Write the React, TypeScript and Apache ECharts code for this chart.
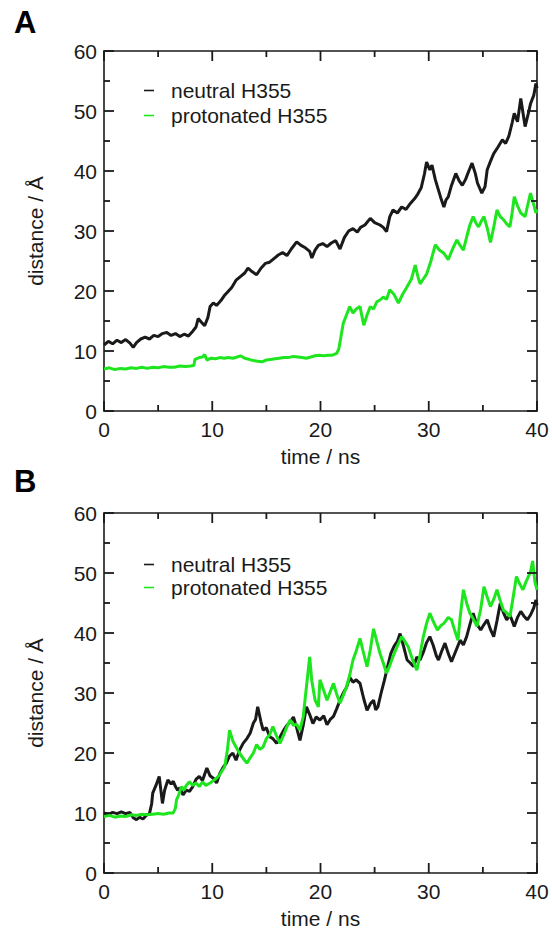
import React, { useEffect, useRef } from 'react';
import * as echarts from 'echarts';

// panel A – neutral H355 (time ns, distance Å)
const neutralA: [number, number][] = [
  [0, 11.0], [0.4, 11.6], [0.8, 11.2], [1.2, 11.8], [1.6, 11.4], [2.0, 11.9], [2.4, 11.3], [2.7, 10.6], [3.0, 11.4], [3.4, 12.0],
  [3.8, 12.3], [4.2, 12.0], [4.6, 12.6], [5.0, 12.4], [5.4, 12.9], [5.8, 13.1], [6.2, 12.6], [6.6, 12.9], [7.0, 12.4], [7.4, 12.8],
  [7.8, 12.5], [8.2, 13.3], [8.5, 14.0], [8.7, 15.4], [9.0, 14.8], [9.3, 14.2], [9.6, 15.6], [9.8, 17.4], [10.1, 18.0], [10.4, 17.6],
  [10.8, 18.4], [11.1, 19.2], [11.4, 19.8], [11.8, 20.6], [12.2, 21.8], [12.6, 22.4], [13.0, 23.0], [13.3, 23.8], [13.7, 23.2], [14.1, 22.7],
  [14.5, 23.8], [14.9, 24.6], [15.3, 24.8], [15.7, 25.4], [16.1, 26.0], [16.5, 26.4], [16.9, 25.9], [17.3, 27.0], [17.8, 28.2], [18.2, 27.6],
  [18.6, 27.2], [19.0, 26.6], [19.2, 25.5], [19.5, 26.8], [19.8, 27.6], [20.2, 27.9], [20.6, 27.4], [21.0, 28.0], [21.4, 28.4], [21.8, 27.0],
  [22.2, 28.9], [22.6, 30.0], [23.0, 30.4], [23.4, 29.8], [23.7, 30.6], [24.1, 31.0], [24.6, 32.1], [25.0, 31.4], [25.5, 31.0], [25.8, 30.6],
  [26.1, 29.9], [26.4, 32.4], [26.7, 33.5], [27.1, 33.0], [27.5, 34.0], [27.9, 33.6], [28.3, 34.6], [28.7, 35.4], [29.0, 36.2], [29.3, 37.2],
  [29.6, 39.5], [29.8, 41.5], [30.1, 40.2], [30.3, 41.0], [30.6, 38.6], [30.8, 37.4], [31.1, 35.6], [31.4, 34.0], [31.6, 35.2], [31.8, 35.7],
  [32.1, 37.6], [32.5, 39.6], [32.8, 38.4], [33.1, 37.6], [33.4, 38.6], [33.7, 40.0], [34.0, 41.3], [34.3, 39.6], [34.5, 38.0], [34.9, 36.3],
  [35.2, 37.4], [35.4, 40.2], [35.7, 41.6], [36.0, 42.9], [36.4, 44.0], [36.8, 45.2], [37.1, 44.6], [37.4, 45.8], [37.7, 48.0], [37.9, 49.6],
  [38.2, 48.2], [38.5, 52.1], [38.8, 48.6], [38.9, 47.4], [39.2, 49.6], [39.4, 51.2], [39.7, 52.6], [39.9, 54.6], [40.0, 53.8],
];

// panel A – protonated H355
const protonatedA: [number, number][] = [
  [0, 7.0], [0.5, 7.2], [1.0, 6.9], [1.5, 7.1], [2.0, 7.0], [2.5, 7.2], [3.0, 7.1], [3.5, 7.3], [4.0, 7.1], [4.5, 7.3],
  [5.0, 7.2], [5.5, 7.4], [6.0, 7.3], [6.5, 7.3], [7.0, 7.5], [7.5, 7.4], [8.0, 7.5], [8.3, 7.6], [8.4, 8.6], [8.8, 8.9],
  [9.1, 9.0], [9.3, 9.4], [9.5, 8.5], [9.9, 8.8], [10.3, 8.7], [10.7, 8.9], [11.1, 8.8], [11.5, 8.9], [11.9, 8.8], [12.3, 9.0],
  [12.6, 9.2], [13.0, 8.8], [13.4, 8.6], [13.8, 8.4], [14.2, 8.3], [14.6, 8.2], [15.0, 8.5], [15.4, 8.6], [15.8, 8.7], [16.2, 8.8],
  [16.6, 8.9], [17.0, 8.9], [17.5, 9.1], [17.9, 9.0], [18.3, 8.9], [18.7, 8.8], [19.1, 9.0], [19.5, 9.2], [19.9, 9.3], [20.3, 9.2],
  [20.7, 9.3], [21.1, 9.3], [21.5, 9.6], [21.7, 10.4], [21.9, 12.5], [22.1, 14.6], [22.4, 16.0], [22.7, 17.4], [23.0, 16.3], [23.3, 17.0],
  [23.65, 17.4], [23.85, 15.6], [24.0, 14.3], [24.3, 16.0], [24.6, 17.4], [24.9, 17.0], [25.2, 18.2], [25.5, 18.5], [25.8, 19.0], [26.1, 18.6],
  [26.4, 20.2], [26.8, 19.4], [27.2, 18.0], [27.6, 19.5], [28.0, 20.7], [28.4, 22.0], [28.75, 24.3], [29.0, 22.4], [29.2, 21.2], [29.5, 22.0],
  [29.8, 22.8], [30.2, 25.0], [30.6, 27.7], [31.0, 26.8], [31.4, 26.3], [31.8, 25.2], [32.2, 27.0], [32.6, 28.5], [32.9, 27.6], [33.2, 26.8],
  [33.5, 29.0], [33.8, 31.0], [34.1, 32.4], [34.4, 31.2], [34.6, 30.7], [34.9, 31.8], [35.1, 32.4], [35.4, 30.5], [35.7, 28.1], [36.0, 30.6],
  [36.3, 33.5], [36.6, 32.4], [36.9, 31.9], [37.2, 31.2], [37.5, 30.7], [37.7, 33.0], [37.9, 35.7], [38.2, 34.2], [38.5, 33.0], [38.9, 32.4],
  [39.1, 34.0], [39.4, 36.3], [39.7, 34.4], [39.9, 33.0], [40.0, 33.6],
];

// panel B – neutral H355
const neutralB: [number, number][] = [
  [0, 10.0], [0.4, 9.7], [0.8, 10.1], [1.2, 9.9], [1.6, 10.2], [2.0, 9.9], [2.4, 10.1], [2.7, 9.2], [3.0, 8.9], [3.3, 9.3],
  [3.6, 9.0], [3.9, 9.6], [4.2, 9.9], [4.4, 11.5], [4.5, 13.3], [4.8, 14.6], [5.1, 16.1], [5.4, 11.6], [5.6, 13.8], [5.9, 15.5],
  [6.2, 14.8], [6.4, 15.3], [6.6, 14.4], [6.8, 13.8], [7.0, 14.2], [7.3, 13.0], [7.6, 13.8], [7.9, 13.6], [8.2, 14.4], [8.5, 15.6],
  [8.8, 16.1], [9.1, 15.4], [9.5, 17.5], [9.8, 16.2], [10.1, 15.8], [10.4, 15.0], [10.7, 16.6], [11.0, 17.6], [11.3, 18.3], [11.6, 19.5],
  [11.9, 20.0], [12.2, 18.8], [12.5, 20.4], [12.85, 21.6], [13.2, 22.4], [13.5, 23.3], [13.8, 25.0], [14.0, 25.6], [14.2, 27.7], [14.5, 25.2],
  [14.7, 23.8], [15.0, 24.2], [15.3, 22.7], [15.6, 22.4], [15.95, 21.6], [16.3, 22.8], [16.6, 23.8], [16.9, 24.6], [17.2, 25.2], [17.5, 26.0],
  [17.8, 24.2], [18.1, 22.1], [18.4, 24.6], [18.7, 27.7], [19.0, 26.4], [19.3, 24.9], [19.6, 26.0], [19.95, 25.5], [20.3, 26.2], [20.6, 24.7],
  [20.9, 25.6], [21.2, 26.1], [21.5, 27.4], [21.8, 28.8], [22.1, 30.0], [22.4, 30.9], [22.7, 32.6], [23.0, 31.8], [23.3, 32.2], [23.65, 31.6],
  [24.0, 29.0], [24.3, 27.1], [24.6, 28.2], [24.9, 28.8], [25.1, 27.2], [25.3, 27.7], [25.6, 30.0], [25.9, 32.1], [26.2, 34.4], [26.5, 36.6],
  [26.8, 37.8], [27.1, 38.6], [27.35, 39.9], [27.7, 37.6], [28.0, 35.5], [28.3, 35.0], [28.6, 34.4], [28.9, 36.0], [29.2, 35.5], [29.5, 36.8],
  [29.8, 38.4], [30.1, 39.4], [30.4, 38.0], [30.7, 36.2], [30.9, 35.5], [31.2, 37.0], [31.5, 38.3], [31.8, 36.6], [32.1, 35.2], [32.5, 37.0],
  [32.9, 38.8], [33.2, 38.0], [33.5, 39.4], [33.8, 41.4], [34.1, 43.3], [34.4, 41.6], [34.8, 40.5], [35.1, 41.4], [35.4, 42.2], [35.7, 40.6],
  [36.0, 39.4], [36.3, 42.0], [36.6, 44.9], [36.9, 43.4], [37.2, 42.2], [37.5, 43.0], [37.9, 41.1], [38.2, 42.6], [38.5, 43.6], [38.8, 42.8],
  [39.1, 42.2], [39.4, 43.0], [39.7, 44.2], [39.9, 45.5], [40.0, 44.6],
];

// panel B – protonated H355
const protonatedB: [number, number][] = [
  [0, 9.4], [0.5, 9.6], [1.0, 9.3], [1.5, 9.5], [2.0, 9.4], [2.5, 9.7], [3.0, 9.6], [3.5, 9.8], [4.0, 9.7], [4.5, 9.8],
  [5.0, 9.9], [5.5, 9.8], [6.0, 10.0], [6.4, 10.0], [6.6, 10.8], [6.7, 12.2], [6.9, 13.0], [7.15, 14.4], [7.4, 13.8], [7.6, 14.6],
  [7.9, 15.2], [8.2, 14.6], [8.5, 15.0], [8.8, 14.4], [9.1, 15.2], [9.4, 14.6], [9.8, 15.0], [10.1, 15.4], [10.4, 15.8], [10.7, 16.4],
  [10.9, 17.0], [11.15, 17.7], [11.4, 20.5], [11.6, 23.8], [11.9, 22.0], [12.2, 21.0], [12.5, 20.0], [12.9, 19.0], [13.2, 18.3], [13.5, 19.2],
  [13.8, 20.0], [14.1, 21.4], [14.4, 20.6], [14.7, 21.0], [15.0, 22.4], [15.3, 23.0], [15.6, 24.4], [15.9, 23.0], [16.25, 21.6], [16.6, 23.0],
  [16.9, 24.4], [17.2, 25.5], [17.5, 24.6], [17.8, 24.8], [18.1, 23.8], [18.4, 26.0], [18.7, 31.0], [19.0, 36.0], [19.2, 32.0], [19.5, 28.8],
  [19.8, 27.7], [19.95, 32.2], [20.3, 30.4], [20.6, 28.8], [20.9, 30.2], [21.2, 31.6], [21.5, 29.8], [21.8, 28.3], [22.1, 29.6], [22.4, 31.0],
  [22.7, 33.0], [23.0, 35.5], [23.3, 37.0], [23.65, 39.1], [24.0, 36.5], [24.3, 34.4], [24.6, 37.2], [24.9, 40.7], [25.2, 38.6], [25.5, 36.6],
  [25.8, 35.0], [26.1, 33.3], [26.4, 34.6], [26.7, 36.1], [27.1, 37.8], [27.5, 39.4], [27.8, 38.6], [28.1, 37.7], [28.5, 35.6], [28.9, 33.8],
  [29.2, 36.4], [29.5, 39.4], [29.8, 41.6], [30.1, 43.3], [30.4, 42.0], [30.8, 40.5], [31.1, 41.2], [31.4, 41.6], [31.8, 42.6], [32.1, 42.2],
  [32.4, 40.4], [32.7, 38.8], [32.9, 42.6], [33.2, 47.2], [33.5, 45.0], [33.8, 43.3], [34.1, 42.4], [34.45, 41.1], [34.8, 44.0], [35.1, 47.7],
  [35.4, 46.0], [35.7, 44.4], [36.0, 45.6], [36.3, 47.2], [36.6, 45.4], [36.9, 43.8], [37.2, 43.4], [37.5, 42.7], [37.8, 46.0], [38.1, 49.4],
  [38.4, 48.2], [38.7, 47.2], [39.0, 48.6], [39.4, 50.2], [39.6, 52.0], [39.8, 48.6], [40.0, 47.2],
];

const seriesNames = ['neutral H355', 'protonated H355'];
const panelLabels = ['A', 'B'];
const xName = 'time / ns';
const yName = 'distance / Å';
// tick positions (major every 10, minor every 5)
const xTickValues = [0, 5, 10, 15, 20, 25, 30, 35, 40];
const yTickValues = [0, 5, 10, 15, 20, 25, 30, 35, 40, 45, 50, 55, 60];

export default function App() {
  const ref = useRef<HTMLDivElement>(null);
  useEffect(() => {
    const chart = echarts.init(ref.current!, undefined, { renderer: 'svg' });
    const font = '"Liberation Sans", Arial, Helvetica, sans-serif';
    const ink = '#1a1a1a';
    const green = '#1ee61e';
    const lbl = { color: ink, fontSize: 21, fontFamily: font };

    const axis = (gi: number, dim: 'x' | 'y', second: boolean): any => ({
      type: 'value', gridIndex: gi, min: 0, max: dim === 'x' ? 40 : 60, interval: 10,
      position: dim === 'x' ? (second ? 'top' : 'bottom') : (second ? 'right' : 'left'),
      axisLine: { show: true, onZero: false, lineStyle: { color: ink, width: 1.6 } },
      axisTick: { show: false },
      minorTick: { show: false },
      splitLine: { show: false }, minorSplitLine: { show: false },
      axisLabel: { show: !second, margin: dim === 'x' ? 8 : 7, ...lbl },
      name: second ? '' : dim === 'x' ? xName : yName,
      nameLocation: 'middle', nameGap: dim === 'x' ? 35 : 58,
      nameTextStyle: lbl,
    });
    const mk = (name: string, data: [number, number][], idx: number, color: string) => ({
      type: 'line', name: name, data, xAxisIndex: idx * 2, yAxisIndex: idx * 2,
      symbol: 'none', smooth: false,
      lineStyle: { color, width: 3 }, itemStyle: { color },
    });
    // inward tick marks on all four sides, placed through the axis scales
    const tickSeries = (g: number) => ({
      type: 'custom', xAxisIndex: g * 2, yAxisIndex: g * 2, silent: true, clip: false, z: 5,
      data: [
        ...xTickValues.map((v) => [v, 0, 0]),
        ...yTickValues.map((v) => [0, v, 1]),
      ],
      encode: { x: 0, y: 1 },
      renderItem: (params: any, api: any) => {
        const cs = params.coordSys;
        const isY = api.value(2) === 1;
        const v = isY ? api.value(1) : api.value(0);
        const len = v % 10 === 0 ? 10 : 6;
        const style = { stroke: ink, lineWidth: 1.8, fill: 'none' };
        if (!isY) {
          const px = api.coord([v, 0])[0];
          const yb = cs.y + cs.height;
          return {
            type: 'group',
            children: [
              { type: 'line', shape: { x1: px, y1: yb, x2: px, y2: yb - len }, style },
              { type: 'line', shape: { x1: px, y1: cs.y, x2: px, y2: cs.y + len }, style },
            ],
          };
        }
        const py = api.coord([0, v])[1];
        const xr = cs.x + cs.width;
        return {
          type: 'group',
          children: [
            { type: 'line', shape: { x1: cs.x, y1: py, x2: cs.x + len, y2: py }, style },
            { type: 'line', shape: { x1: xr, y1: py, x2: xr - len, y2: py }, style },
          ],
        };
      },
    });
    const legend = (top: number, gap: number, names: string[]) => ({
      show: true, orient: 'vertical', left: 139, top, itemGap: gap,
      itemWidth: 10, itemHeight: 1.6, icon: 'rect',
      data: names.map((n) => ({ name: n, icon: 'rect' })),
      textStyle: { ...lbl, padding: [0, 0, 0, 12] },
      selectedMode: false,
    });

    chart.setOption({
      animation: false,
      grid: [
        { left: 104, top: 51, width: 433, height: 360 },
        { left: 104, top: 513, width: 433, height: 360 },
      ],
      xAxis: [axis(0, 'x', false), axis(0, 'x', true), axis(1, 'x', false), axis(1, 'x', true)],
      yAxis: [axis(0, 'y', false), axis(0, 'y', true), axis(1, 'y', false), axis(1, 'y', true)],
      legend: [
        legend(75, 4, [seriesNames[0] + ' ', seriesNames[1] + ' ']),
        legend(549, 2, [seriesNames[0], seriesNames[1]]),
      ],
      series: [
        mk(seriesNames[0] + ' ', neutralA, 0, ink),
        mk(seriesNames[1] + ' ', protonatedA, 0, green),
        mk(seriesNames[0], neutralB, 1, ink),
        mk(seriesNames[1], protonatedB, 1, green),
        tickSeries(0),
        tickSeries(1),
      ],
      graphic: [
        { type: 'text', left: 14, top: 7, style: { text: panelLabels[0], font: `bold 31px ${font}`, fill: '#000' } },
        { type: 'text', left: 14, top: 466, style: { text: panelLabels[1], font: `bold 31px ${font}`, fill: '#000' } },
      ],
    });
    return () => chart.dispose();
  }, []);
  return (
    <div
      ref={ref}
      style={{ position: 'fixed', left: 0, top: 0, width: 552, height: 939, background: '#fff' }}
    />
  );
}
